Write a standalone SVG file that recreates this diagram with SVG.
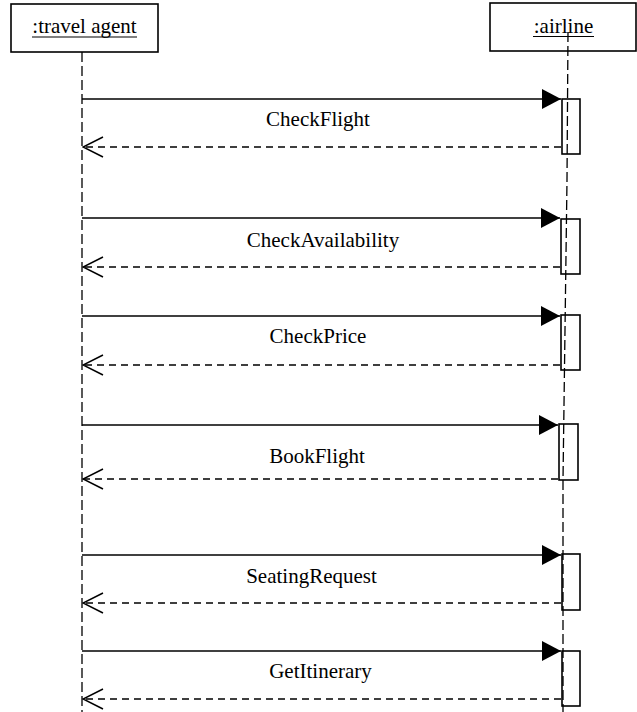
<svg xmlns="http://www.w3.org/2000/svg" width="637" height="712" viewBox="0 0 637 712">
<defs>
<style>
text{font-family:"Liberation Serif","Times New Roman",serif;font-size:21px;fill:#000}
.box{fill:#fff;stroke:#000;stroke-width:1.6}
.act{fill:none;stroke:#000;stroke-width:1.6}
.life{fill:none;stroke:#000;stroke-width:1.3;stroke-dasharray:10 4}
.call{fill:none;stroke:#000;stroke-width:1.5}
.ret{fill:none;stroke:#000;stroke-width:1.5;stroke-dasharray:7 5}
.ul{stroke:#000;stroke-width:1.2}
</style>
<marker id="fill" viewBox="0 0 19 20" refX="19" refY="10" markerWidth="19" markerHeight="20" markerUnits="userSpaceOnUse" orient="auto">
<path d="M0,0 L19,10 L0,20 Z" fill="#000"/>
</marker>
<marker id="open" viewBox="0 0 22 22" refX="21" refY="11" markerWidth="22" markerHeight="22" markerUnits="userSpaceOnUse" orient="auto">
<path d="M1,1 L21,11 L1,21" fill="none" stroke="#000" stroke-width="1.5"/>
</marker>
</defs>
<rect width="637" height="712" fill="#fff"/>
<g id="travel-agent">
<rect class="box" x="11" y="4" width="147" height="48"/>
<text x="84.5" y="33" text-anchor="middle">:travel agent</text>
<line class="ul" x1="32" y1="37" x2="137" y2="37"/>
<line class="life" x1="82" y1="52" x2="82" y2="712"/>
</g>
<g id="airline">
<rect class="box" x="490" y="3" width="146" height="48"/>
<text x="563.5" y="33" text-anchor="middle">:airline</text>
<line class="ul" x1="533" y1="36.5" x2="594" y2="36.5"/>
<polyline class="life" points="568,32 567,180 563,480 563,712"/>
</g>
<g id="activations">
<rect class="act" x="562" y="99" width="18" height="55"/>
<rect class="act" x="561" y="219" width="19" height="55"/>
<rect class="act" x="561" y="315" width="19" height="55"/>
<rect class="act" x="559" y="424" width="19" height="56"/>
<rect class="act" x="562" y="554" width="18" height="56"/>
<rect class="act" x="562" y="651" width="18" height="55"/>
</g>
<g id="connectors">
<line class="call" x1="82" y1="99" x2="561" y2="99" marker-end="url(#fill)"/>
<line class="ret" x1="561" y1="147" x2="83" y2="147" marker-end="url(#open)"/>
<line class="call" x1="82" y1="218" x2="560" y2="218" marker-end="url(#fill)"/>
<line class="ret" x1="560" y1="267" x2="83" y2="267" marker-end="url(#open)"/>
<line class="call" x1="82" y1="316" x2="560" y2="316" marker-end="url(#fill)"/>
<line class="ret" x1="560" y1="365" x2="83" y2="365" marker-end="url(#open)"/>
<line class="call" x1="82" y1="425" x2="558" y2="425" marker-end="url(#fill)"/>
<line class="ret" x1="558" y1="479" x2="83" y2="479" marker-end="url(#open)"/>
<line class="call" x1="82" y1="555" x2="561" y2="555" marker-end="url(#fill)"/>
<line class="ret" x1="561" y1="603" x2="83" y2="603" marker-end="url(#open)"/>
<line class="call" x1="82" y1="651" x2="561" y2="651" marker-end="url(#fill)"/>
<line class="ret" x1="561" y1="699" x2="83" y2="699" marker-end="url(#open)"/>
</g>
<g id="labels">
<text x="318" y="126" text-anchor="middle">CheckFlight</text>
<text x="323" y="247" text-anchor="middle">CheckAvailability</text>
<text x="318" y="343" text-anchor="middle">CheckPrice</text>
<text x="317" y="463" text-anchor="middle">BookFlight</text>
<text x="311.5" y="583" text-anchor="middle">SeatingRequest</text>
<text x="320.5" y="678" text-anchor="middle">GetItinerary</text>
</g>
</svg>
